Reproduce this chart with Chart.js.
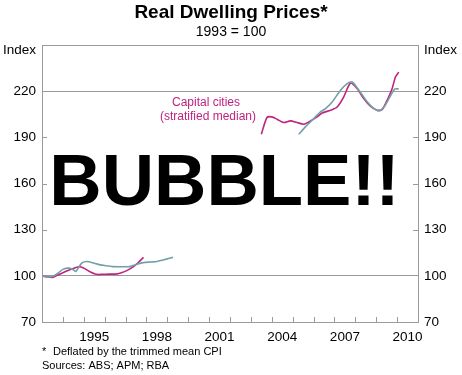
<!DOCTYPE html>
<html><head><meta charset="utf-8">
<script src="https://cdn.jsdelivr.net/npm/chart.js@4.4.1/dist/chart.umd.min.js"></script>
<style>html,body{margin:0;padding:0;background:#fff;}</style>
</head><body>
<canvas id="c" width="462" height="375"></canvas>
<script>
// ---- Data ----
const capitalYears = [1993.0,1993.25,1993.5,1993.75,1994.0,1994.25,1994.5,1994.8,1995.0,1995.25,1995.6,1995.9,1996.2,1996.6,1996.8,1997.06,1997.38,1997.6,1997.86,
  2000.5,
  2003.5,2003.77,2004.0,2004.25,2004.57,2004.89,2005.21,2005.53,2005.77,2006.17,2006.41,2006.81,2007.13,2007.44,2007.77,2008.09,2008.4,2008.72,2009.04,2009.28,2009.52,2009.76,2009.92,2010.08];
const capitalValues = [100,99.3,99.0,100.5,102,103.5,104.8,106,105,103,101,101,101.1,101.3,102,103.4,106,108.5,112,
  null,
  192,202.9,203.3,201.8,199.6,200.7,199.6,198.5,200,203.3,205.8,207.6,209.7,216.2,225.3,221.6,215.2,210.2,207.6,208,214,221.6,229.2,232.4];
const otherYears = [1993.0,1993.25,1993.5,1993.75,1994.0,1994.3,1994.5,1994.62,1994.9,1995.15,1995.5,1995.8,1996.1,1996.4,1996.8,1997.2,1997.5,1997.85,1998.2,1998.5,1998.8,1999.1,1999.27,
  2002.0,
  2005.29,2005.61,2005.93,2006.33,2006.57,2006.89,2007.29,2007.61,2007.85,2008.17,2008.49,2008.81,2009.13,2009.37,2009.69,2009.88,2010.08];
const otherValues = [100,99.4,99.5,101.5,104.2,105,104,102.8,108.2,109.3,108.2,107.1,106.6,106,105.9,106,107.3,108.6,109,109.3,110.3,111.4,112,
  null,
  192,196.8,201.1,206.5,208.7,213,220.6,224.9,226,220.6,214.5,209.7,207.2,209.7,217.1,221.4,221.4];
const yTicks = [70,100,130,160,190,220,250];
const gridValues = [100,220,250];
const xLabelYears = [1995,1998,2001,2004,2007,2010];
const xMin = 1993, xMax = 2011;

// ---- Styles ----
const F = '"Liberation Sans", Arial, sans-serif';
const frame = '#9a9a9a';
const magenta = '#c0237f';
const teal = '#72a0a6';

function pts(xs, ys){ return xs.map((x,i)=>({x:x, y:ys[i]})); }

const deco = {
  id: 'deco',
  afterDraw(chart){
    const {ctx, chartArea:a, scales} = chart;
    const x = scales.x, y = scales.y;
    ctx.save();
    ctx.strokeStyle = frame; ctx.lineWidth = 1;
    const line = (x1,y1,x2,y2)=>{ ctx.beginPath(); ctx.moveTo(x1,y1); ctx.lineTo(x2,y2); ctx.stroke(); };
    yTicks.forEach(v=>{
      if (gridValues.includes(v) || v === 70) return;
      const py = Math.round(y.getPixelForValue(v)) + 0.5;
      line(a.left, py, a.left+5, py);
      line(a.right-5, py, a.right, py);
    });
    for (let yr = xMin+1; yr < xMax; yr++){
      const px = Math.round(x.getPixelForValue(yr)) + 0.5;
      line(px, a.bottom, px, a.bottom-5);
    }
    ctx.fillStyle = '#000';
    ctx.font = '13.5px ' + F;
    ctx.textBaseline = 'middle';
    ctx.textAlign = 'right'; ctx.fillText('Index', a.left-6, a.top+5);
    ctx.textAlign = 'left';  ctx.fillText('Index', a.right+6, a.top+5);

    // series label
    ctx.fillStyle = magenta;
    ctx.font = '12px ' + F;
    ctx.textAlign = 'center';
    ctx.fillText('Capital cities', a.left+164, a.top+58);
    ctx.fillText('(stratified median)', a.left+166, a.top+72);

    // big annotation
    ctx.fillStyle = '#000';
    ctx.font = 'bold 72.5px ' + F;
    ctx.textBaseline = 'alphabetic';
    ctx.textAlign = 'center';
    ctx.fillText('BUBBLE!!', (a.left+a.right)/2 - 5.5, a.top + 159.5);

    // footnotes
    ctx.font = '11px ' + F;
    ctx.textAlign = 'left';
    ctx.textBaseline = 'middle';
    ctx.fillText('*', a.left, 352);
    ctx.fillText('Deflated by the trimmed mean CPI', a.left+11, 352);
    ctx.fillText('Sources: ABS; APM; RBA', a.left, 366);
    ctx.restore();
  }
};

const yTickOpts = {
  color:'#000', font:{family:F, size:13.5}, padding:6,
  callback: v => (v === 250 ? '' : String(v))
};

new Chart(document.getElementById('c'), {
  type: 'line',
  data: {
    datasets: [
      { label:'Other', data: pts(otherYears, otherValues), borderColor: teal, borderWidth:1.6, pointRadius:0, tension:0.25, spanGaps:false },
      { label:'Capital cities (stratified median)', data: pts(capitalYears, capitalValues), borderColor: magenta, borderWidth:1.6, pointRadius:0, tension:0.25, spanGaps:false }
    ]
  },
  options: {
    responsive:false, animation:false, devicePixelRatio:1,
    layout:{padding:0},
    plugins:{
      legend:{display:false}, tooltip:{enabled:false},
      title:{display:true, text:'Real Dwelling Prices*', color:'#000', font:{family:F, size:19, weight:'bold', lineHeight:1.2}, padding:{top:1,bottom:0}},
      subtitle:{display:true, text:'1993 = 100', color:'#000', font:{family:F, size:14, lineHeight:1.2}, padding:{top:0,bottom:4.4}}
    },
    scales:{
      x:{ type:'linear', min:xMin, max:xMax, position:'bottom',
          afterBuildTicks: s => { s.ticks = xLabelYears.map(v=>({value:v+0.5})); },
          ticks:{ color:'#000', font:{family:F, size:13.5}, padding:7, maxRotation:0, autoSkip:false, callback: v => String(Math.floor(v)) },
          grid:{display:false, drawTicks:false},
          border:{display:true, color:frame, width:1},
          afterFit: s => { s.height = 53; } },
      y:{ type:'linear', min:70, max:250, position:'left',
          afterBuildTicks: s => { s.ticks = yTicks.map(v=>({value:v})); },
          ticks: yTickOpts,
          grid:{ drawTicks:false, color: c => gridValues.includes(c.tick.value) ? frame : 'rgba(0,0,0,0)', lineWidth:1 },
          border:{display:true, color:frame, width:1},
          afterFit: s => { s.width = 42; } },
      y2:{ type:'linear', min:70, max:250, position:'right',
          afterBuildTicks: s => { s.ticks = yTicks.map(v=>({value:v})); },
          ticks: yTickOpts,
          grid:{ display:false, drawTicks:false },
          border:{display:true, color:frame, width:1},
          afterFit: s => { s.width = 44; } }
    }
  },
  plugins:[deco]
});
</script>
</body></html>
